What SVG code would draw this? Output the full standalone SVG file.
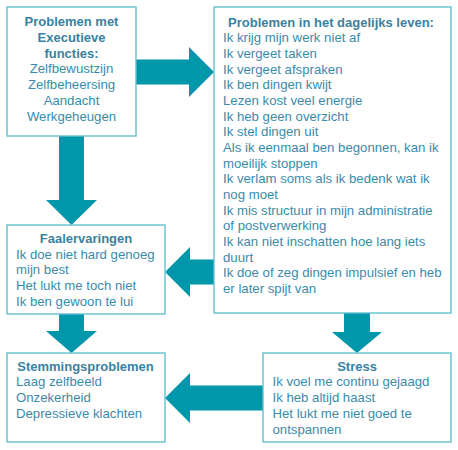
<svg xmlns="http://www.w3.org/2000/svg" width="458" height="450" viewBox="0 0 458 450">
<style>
.box{fill:#fff;stroke:#62c1cf;stroke-width:1.4}
.arr{fill:#0097aa}
text{font-family:"Liberation Sans",Arial,sans-serif;font-size:13.2px;fill:#3a8bab}
.t{font-weight:bold;font-size:13px;fill:#3a82a0}
.c{text-anchor:middle}
</style>
<rect width="458" height="450" fill="#fff"/>
<g id="connectors">
<polygon class="arr" points="136,59.5 189,59.5 189,47 214,72 189,97 189,84.5 136,84.5"/>
<polygon class="arr" points="59,136 84,136 84,200 97,200 71.5,225 46,200 59,200"/>
<polygon class="arr" points="214,259.5 190,259.5 190,247 165,272 190,297 190,284.5 214,284.5"/>
<polygon class="arr" points="59,314 84,314 84,331 97,331 71.5,353 46,331 59,331"/>
<polygon class="arr" points="344,313 370,313 370,332 382,332 357,353 332,332 344,332"/>
<polygon class="arr" points="263,385.5 190,385.5 190,373 165,398 190,423 190,410.5 263,410.5"/>
</g>
<g id="executieve">
<rect class="box" x="7" y="7" width="129" height="129"/>
<text class="t c" x="71.5" y="26.3">Problemen met</text>
<text class="t c" x="71.5" y="42">Executieve</text>
<text class="t c" x="71.5" y="57.7">functies:</text>
<text class="c" x="71.5" y="73.4">Zelfbewustzijn</text>
<text class="c" x="71.5" y="89.1">Zelfbeheersing</text>
<text class="c" x="71.5" y="104.8">Aandacht</text>
<text class="c" x="71.5" y="120.5">Werkgeheugen</text>
</g>
<g id="dagelijks">
<rect class="box" x="214" y="7" width="237" height="306"/>
<text class="t c" x="331" y="26.5">Problemen in het dagelijks leven:</text>
<text x="223" y="42.2">Ik krijg mijn werk niet af</text>
<text x="223" y="57.8">Ik vergeet taken</text>
<text x="223" y="73.5">Ik vergeet afspraken</text>
<text x="223" y="89.2">Ik ben dingen kwijt</text>
<text x="223" y="104.8">Lezen kost veel energie</text>
<text x="223" y="120.5">Ik heb geen overzicht</text>
<text x="223" y="136.2">Ik stel dingen uit</text>
<text x="223" y="151.9">Als ik eenmaal ben begonnen, kan ik</text>
<text x="223" y="167.5">moeilijk stoppen</text>
<text x="223" y="183.2">Ik verlam soms als ik bedenk wat ik</text>
<text x="223" y="198.9">nog moet</text>
<text x="223" y="214.5">Ik mis structuur in mijn administratie</text>
<text x="223" y="230.2">of postverwerking</text>
<text x="223" y="245.9">Ik kan niet inschatten hoe lang iets</text>
<text x="223" y="261.5">duurt</text>
<text x="223" y="277.2">Ik doe of zeg dingen impulsief en heb</text>
<text x="223" y="292.9">er later spijt van</text>
</g>
<g id="faalervaringen">
<rect class="box" x="7" y="225" width="158" height="89"/>
<text class="t c" x="86" y="242.8">Faalervaringen</text>
<text x="16" y="258.8">Ik doe niet hard genoeg</text>
<text x="16" y="274">mijn best</text>
<text x="16" y="290.2">Het lukt me toch niet</text>
<text x="16" y="306.2">Ik ben gewoon te lui</text>
</g>
<g id="stemmingsproblemen">
<rect class="box" x="7" y="353" width="158" height="89"/>
<text class="t c" x="85.5" y="371.2">Stemmingsproblemen</text>
<text x="16" y="386.4">Laag zelfbeeld</text>
<text x="16" y="402.2">Onzekerheid</text>
<text x="16" y="417.8">Depressieve klachten</text>
</g>
<g id="stress">
<rect class="box" x="263" y="353" width="188" height="89"/>
<text class="t c" x="357" y="371.2">Stress</text>
<text x="272.5" y="386.4">Ik voel me continu gejaagd</text>
<text x="272.5" y="402.2">Ik heb altijd haast</text>
<text x="272.5" y="417.6">Het lukt me niet goed te</text>
<text x="272.5" y="433.6">ontspannen</text>
</g>
</svg>
